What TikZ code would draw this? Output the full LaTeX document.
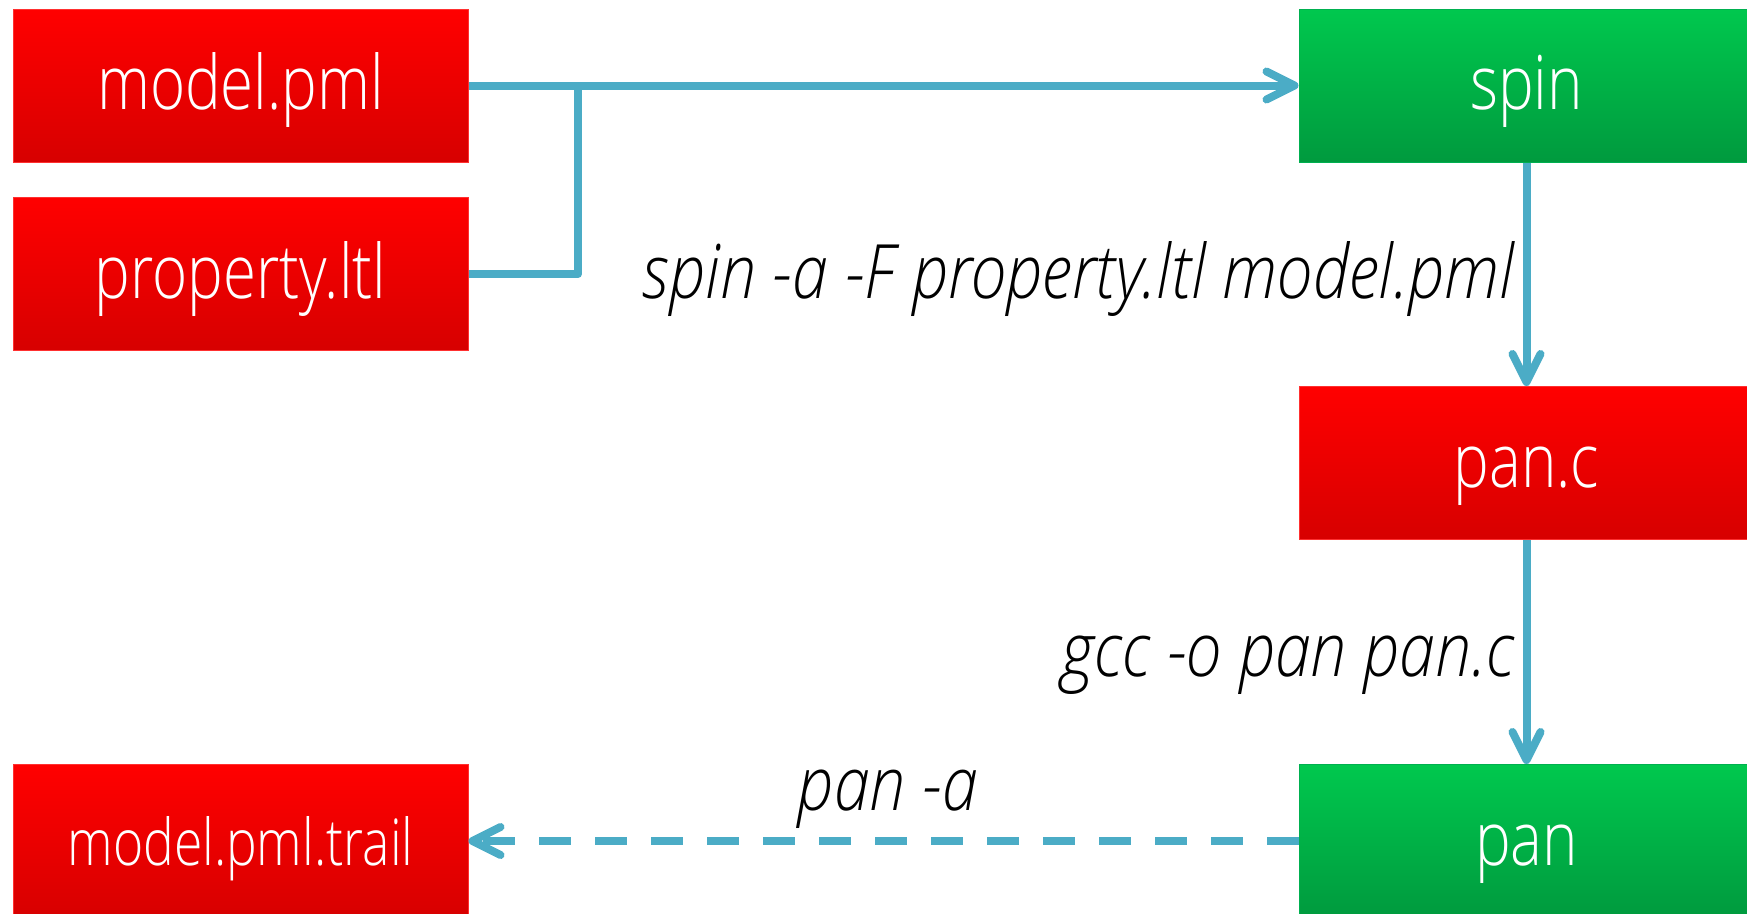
\documentclass[tikz,border=0pt]{standalone}
\usepackage{fontspec}
\setmainfont{Open Sans}[UprightFont=* Light, ItalicFont=* Light Italic,
  UprightFeatures={FakeStretch=0.8}, ItalicFeatures={FakeStretch=0.86}]
\usetikzlibrary{arrows.meta}
\definecolor{lineblue}{HTML}{4BACC6}
\definecolor{redtop}{HTML}{FF0000}
\definecolor{redbot}{HTML}{D70000}
\definecolor{rededge}{HTML}{FF3030}
\definecolor{greentop}{HTML}{00C84E}
\definecolor{greenbot}{HTML}{009A3E}
\definecolor{greenedge}{HTML}{00B050}
\tikzset{
  box/.style={minimum width=455pt, minimum height=153pt, inner sep=0pt,
    text=white, font=\fontsize{75}{90}\selectfont, text height=57pt, text depth=9pt,
    line width=1pt},
  redbox/.style={box, draw=rededge, top color=redtop, bottom color=redbot},
  greenbox/.style={box, draw=greenedge, top color=greentop, bottom color=greenbot},
  conn/.style={draw=lineblue, line width=8pt, line join=round},
  tip/.style={-{Straight Barb[length=28pt,width=28pt,round]}},
  lab/.style={font=\fontsize{75}{90}\selectfont\itshape, inner sep=0pt, text=black}
}
\begin{document}
\begin{tikzpicture}[x=1pt, y=-1pt]
\clip (0,0) rectangle (1747,913);
\fill[white] (0,0) rectangle (1747,913);
\node[redbox] (model) at (240.5,85.5) {model.pml};
\node[redbox] (prop) at (240.5,274) {property.ltl};
\node[greenbox] (spin) at (1526.5,85.5) {spin};
\node[redbox] (panc) at (1526.5,463) {pan.c};
\node[greenbox] (pan) at (1526.5,841) {pan};
\node[redbox, font=\fontsize{64.5}{76}\selectfont] (trail) at (240.5,841) {model.pml.trail};
\coordinate (j) at (578,85.5);
\draw[conn, tip] (model.east) -- (spin.west);
\draw[conn] (prop.east) -| (j);
\draw[conn, tip] (spin.south) -- (panc.north);
\draw[conn, tip] (panc.south) -- (pan.north);
\draw[conn, tip, dash pattern=on 32pt off 24pt] (pan.west) -- (trail.east);
\node[lab, anchor=base east] (l1) at (1515,298) {spin -a -F property.ltl model.pml};
\node[lab, anchor=base east] (l2) at (1515,676) {gcc -o pan pan.c};
\node[lab, anchor=base] (l3) at (888,810) {pan -a};
\end{tikzpicture}
\end{document}
